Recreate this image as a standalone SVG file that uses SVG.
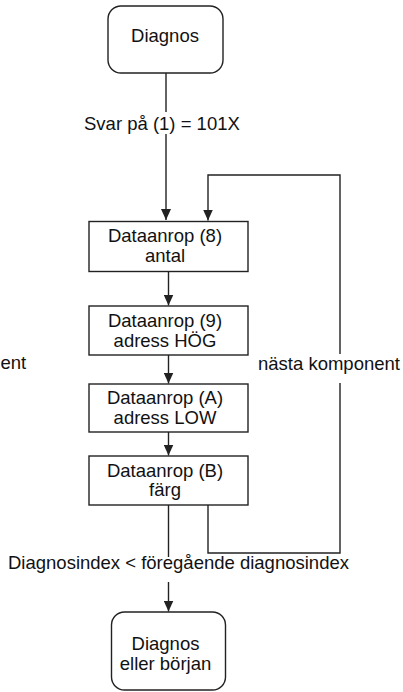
<svg xmlns="http://www.w3.org/2000/svg" width="403" height="692" viewBox="0 0 403 692">
<style>
text{font-family:"Liberation Sans",Arial,sans-serif;font-size:18.5px;fill:#111}
.c{text-anchor:middle}
.box{fill:#fff;stroke:#222;stroke-width:1.4}
.ln{fill:none;stroke:#222;stroke-width:1.4}
</style>
<defs>
<marker id="a" markerWidth="11" markerHeight="10" refX="11" refY="5" orient="auto" markerUnits="userSpaceOnUse" viewBox="0 0 11 10">
<path d="M0,0 L11,5 L0,10 Z" fill="#222"/>
</marker>
</defs>
<g id="connectors">
<line class="ln" x1="166" y1="73" x2="166" y2="112"/>
<line class="ln" x1="166" y1="134" x2="166" y2="220" marker-end="url(#a)"/>
<text x="84" y="130">Svar på (1) = 101X</text>
<line class="ln" x1="168.5" y1="272" x2="168.5" y2="305.5" marker-end="url(#a)"/>
<line class="ln" x1="168.5" y1="355" x2="168.5" y2="383.5" marker-end="url(#a)"/>
<line class="ln" x1="168.5" y1="432" x2="168.5" y2="455.5" marker-end="url(#a)"/>
<line class="ln" x1="168.5" y1="505" x2="168.5" y2="557"/>
<line class="ln" x1="168.5" y1="582" x2="168.5" y2="611.5" marker-end="url(#a)"/>
<text x="8" y="569">Diagnosindex &lt; föregående diagnosindex</text>
<polyline class="ln" points="208,505 208,553 340,553 340,383"/>
<polyline class="ln" points="340,354 340,175 208,175 208,220.5" marker-end="url(#a)"/>
<text x="258" y="370">nästa komponent</text>
<text x="0.5" y="369">ent</text>
</g>
<g id="start">
<rect class="box" x="108" y="6" width="115" height="67" rx="13"/>
<text class="c" x="165" y="42">Diagnos</text>
</g>
<g id="n8">
<rect class="box" x="89" y="221.5" width="159" height="50"/>
<text class="c" x="165" y="242">Dataanrop (8)</text>
<text class="c" x="165" y="262">antal</text>
</g>
<g id="n9">
<rect class="box" x="89" y="306" width="159" height="49"/>
<text class="c" x="165" y="326.5">Dataanrop (9)</text>
<text class="c" x="165" y="346.5">adress HÖG</text>
</g>
<g id="nA">
<rect class="box" x="89" y="384" width="159" height="48"/>
<text class="c" x="165" y="403.5">Dataanrop (A)</text>
<text class="c" x="165" y="423.5">adress LOW</text>
</g>
<g id="nB">
<rect class="box" x="89" y="456" width="159" height="49"/>
<text class="c" x="165" y="477">Dataanrop (B)</text>
<text class="c" x="165" y="496">färg</text>
</g>
<g id="end">
<rect class="box" x="111.5" y="612" width="114" height="78" rx="13"/>
<text class="c" x="165.5" y="650">Diagnos</text>
<text class="c" x="165.5" y="669.5">eller början</text>
</g>
</svg>
